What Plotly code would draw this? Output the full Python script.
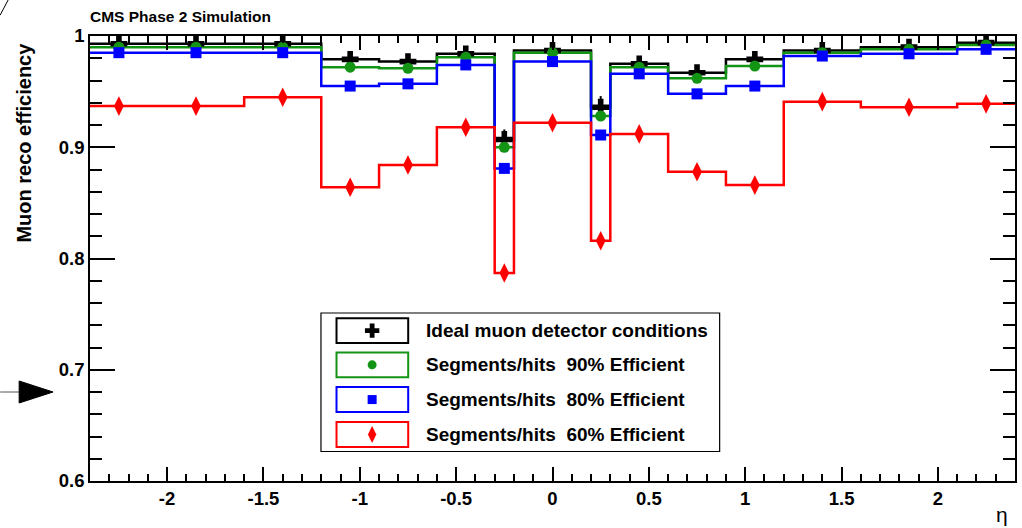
import plotly.graph_objects as go

# ---- data ----
eta_edges = [-2.4, -2.1, -1.6, -1.2, -0.9, -0.6, -0.3, -0.2, 0.2, 0.3, 0.6, 0.9, 1.2, 1.6, 2.1, 2.4]
ideal = [0.993, 0.993, 0.993, 0.979, 0.977, 0.984, 0.907, 0.987, 0.936, 0.975, 0.967, 0.979, 0.987, 0.990, 0.994]
ideal_err = [0.002, 0.002, 0.002, 0.002, 0.002, 0.002, 0.009, 0.002, 0.010, 0.002, 0.002, 0.002, 0.002, 0.002, 0.002]
eff90 = [0.990, 0.990, 0.990, 0.972, 0.971, 0.981, 0.900, 0.985, 0.928, 0.972, 0.962, 0.973, 0.985, 0.988, 0.992]
eff80 = [0.985, 0.985, 0.985, 0.955, 0.957, 0.974, 0.881, 0.977, 0.911, 0.966, 0.948, 0.955, 0.982, 0.984, 0.988]
eff60 = [0.937, 0.937, 0.945, 0.864, 0.884, 0.918, 0.787, 0.922, 0.816, 0.912, 0.878, 0.866, 0.941, 0.936, 0.939]

series_names = ["Ideal muon detector conditions",
                "Segments/hits  90% Efficient",
                "Segments/hits  80% Efficient",
                "Segments/hits  60% Efficient"]
series_vals = [ideal, eff90, eff80, eff60]
series_colors = ["#000000", "#149414", "#0000ff", "#ff0000"]
series_symbols = ["cross", "circle", "square", "diamond-tall"]
series_sizes = [14, 11, 11, 14]

x_tickvals = [-2, -1.5, -1, -0.5, 0, 0.5, 1, 1.5, 2]
x_ticktext = ["-2", "-1.5", "-1", "-0.5", "0", "0.5", "1", "1.5", "2"]
y_tickvals = [0.6, 0.7, 0.8, 0.9, 1.0]
y_ticktext = ["0.6", "0.7", "0.8", "0.9", "1"]

centers = [(a + b) / 2 for a, b in zip(eta_edges[:-1], eta_edges[1:])]

FONT = "Liberation Sans"
fig = go.Figure()

# step histograms
for vals, col in zip(series_vals, series_colors):
    fig.add_trace(go.Scatter(x=eta_edges, y=vals + [vals[-1]], mode="lines",
                             line=dict(color=col, width=2.5, shape="hv"),
                             showlegend=False, hoverinfo="skip"))
# markers
for i, (vals, col, sym, sz) in enumerate(zip(series_vals, series_colors, series_symbols, series_sizes)):
    kw = {}
    if i == 0:
        kw["error_y"] = dict(type="data", array=ideal_err, color=col, thickness=2, width=0)
    fig.add_trace(go.Scatter(x=centers, y=vals, mode="markers",
                             marker=dict(color=col, symbol=sym, size=sz, line=dict(width=0)),
                             showlegend=False, **kw))

# ---- hand-drawn ROOT-style legend (overlay axes in 0..1 plot-fraction units) ----
row_y = [0.338, 0.261, 0.183, 0.1045]
leg_sizes = [12, 9, 9, 12]
for ry, col, sym, sz in zip(row_y, series_colors, series_symbols, leg_sizes):
    fig.add_trace(go.Scatter(x=[0.305], y=[ry], mode="markers", xaxis="x2", yaxis="y2",
                             marker=dict(color=col, symbol=sym, size=sz, line=dict(width=0)),
                             showlegend=False, hoverinfo="skip"))

shapes = []
shapes.append(dict(type="rect", xref="paper", yref="paper", x0=0.2497, x1=0.6807, y0=0.0663, y1=0.3775,
                   line=dict(color="#000000", width=1.2), fillcolor="rgba(0,0,0,0)", layer="below"))
annotations = []
for ry, col, name in zip(row_y, series_colors, series_names):
    shapes.append(dict(type="rect", xref="paper", yref="paper", x0=0.2665, x1=0.344,
                       y0=ry - 0.028, y1=ry + 0.028, line=dict(color=col, width=2),
                       fillcolor="rgba(0,0,0,0)"))
    annotations.append(dict(xref="paper", yref="paper", x=0.3614, y=ry, xanchor="left", yanchor="middle",
                            text=name, showarrow=False,
                            font=dict(family=FONT, size=19, color="#000000", weight="bold")))

# stray arrow on the left and diagonal stroke in the corner
shapes.append(dict(type="line", xref="paper", yref="paper", x0=-0.0971, x1=-0.0766, y0=0.2, y1=0.2,
                   line=dict(color="#555555", width=1)))
shapes.append(dict(type="path", xref="paper", yref="paper",
                   path="M -0.0399 0.2 L -0.0766 0.2247 L -0.0766 0.1753 Z",
                   fillcolor="#000000", line=dict(color="#000000", width=1)))
shapes.append(dict(type="line", xref="paper", yref="paper", x0=-0.0971, x1=-0.0885, y0=1.047, y1=1.081,
                   line=dict(color="#000000", width=1)))

annotations.append(dict(xref="paper", yref="paper", x=-0.0022, y=1.044, xanchor="left", yanchor="middle",
                        text="CMS Phase 2 Simulation", showarrow=False,
                        font=dict(family=FONT, size=15.5, color="#000000", weight="bold")))
annotations.append(dict(xref="paper", yref="paper", x=-0.0712, y=0.99, xanchor="center", yanchor="top",
                        text="Muon reco efficiency", textangle=-90, showarrow=False,
                        font=dict(family=FONT, size=20, color="#000000", weight="bold")))
annotations.append(dict(xref="paper", yref="paper", x=0.986, y=-0.075, xanchor="center", yanchor="middle",
                        text="η", showarrow=False,
                        font=dict(family=FONT, size=21, color="#000000")))

axis_common = dict(showline=True, linecolor="#000000", linewidth=1.5, mirror="allticks",
                   ticks="inside", tickcolor="#000000", tickwidth=1.5, showgrid=False, zeroline=False,
                   tickfont=dict(family=FONT, size=18.5, color="#000000", weight="bold"))

fig.update_layout(
    width=1022, height=528,
    margin=dict(l=90, r=5, t=36, b=47),
    paper_bgcolor="white", plot_bgcolor="white",
    showlegend=False,
    xaxis=dict(range=[-2.4, 2.4], tickmode="array", tickvals=x_tickvals, ticktext=x_ticktext,
               ticklen=14, minor=dict(tick0=0, dtick=0.1, ticklen=7, ticks="inside", tickcolor="#000000"),
               **axis_common),
    yaxis=dict(range=[0.6, 1.0], tickmode="array", tickvals=y_tickvals, ticktext=y_ticktext,
               ticklen=25, minor=dict(tick0=0.6, dtick=0.02, ticklen=12, ticks="inside", tickcolor="#000000"),
               **axis_common),
    xaxis2=dict(range=[0, 1], overlaying="x", visible=False, fixedrange=True),
    yaxis2=dict(range=[0, 1], overlaying="y", visible=False, fixedrange=True),
    shapes=shapes,
    annotations=annotations,
)

fig.write_html("out.html")
